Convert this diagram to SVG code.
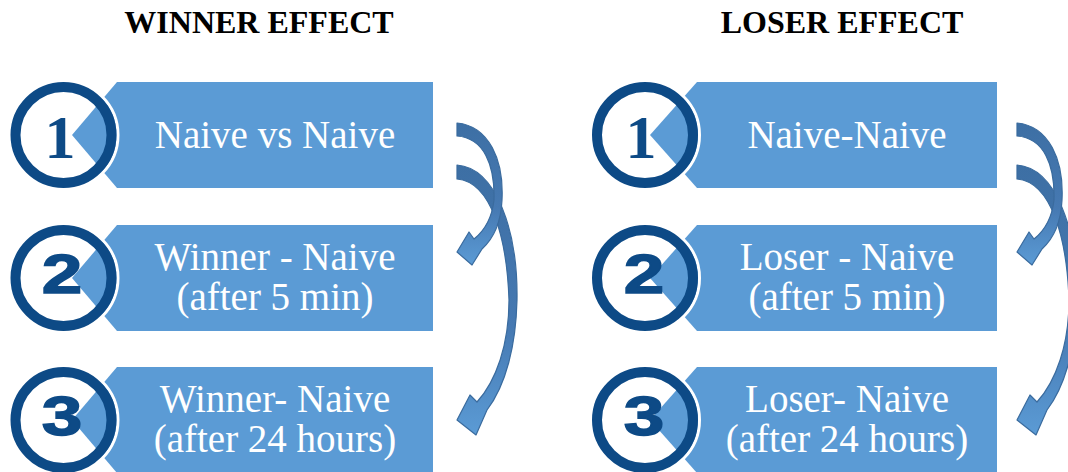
<svg xmlns="http://www.w3.org/2000/svg" width="1068" height="472" viewBox="0 0 1068 472">
<defs>
<linearGradient id="ag" x1="0" y1="0" x2="0" y2="1">
<stop offset="0" stop-color="#3D6FA4"/>
<stop offset="0.6" stop-color="#4679B2"/>
<stop offset="1" stop-color="#5B9BD5"/>
</linearGradient>
<style>
.box{fill:#5B9BD5}
.ring{fill:none;stroke:#0D4A86;stroke-width:10}
.halo{fill:none;stroke:#fff;stroke-width:3}
.num1{font-family:"Liberation Serif",serif;font-weight:bold;font-size:62px;fill:#0D4A86;text-anchor:middle}
.num{font-family:"Liberation Sans",sans-serif;font-weight:bold;font-size:56px;fill:#0D4A86;text-anchor:middle;stroke:#0D4A86;stroke-width:1.5}
.lbl{font-family:"Liberation Serif",serif;font-size:39px;fill:#fff;text-anchor:middle}
.title{font-family:"Liberation Serif",serif;font-weight:bold;font-size:32px;fill:#000;text-anchor:middle}
.arr{fill:url(#ag);stroke:#3A6B9E;stroke-width:1.2;stroke-linejoin:round}
</style>
</defs>
<rect width="1068" height="472" fill="#fff"/>
<text class="title" x="259" y="33">WINNER EFFECT</text>
<text class="title" x="842" y="33">LOSER EFFECT</text>

<g id="w1">
<polygon class="box" points="117,82 433,82 433,188 117,188 72,135"/>
<circle class="halo" cx="63.5" cy="135" r="54.5"/>
<circle class="ring" cx="63.5" cy="135" r="48"/>
<text class="num1" x="60" y="158">1</text>
<text class="lbl" x="275" y="148">Naive vs Naive</text>
</g>
<g id="w2">
<polygon class="box" points="117,225 433,225 433,331 117,331 72,278"/>
<circle class="halo" cx="63.5" cy="278" r="54.5"/>
<circle class="ring" cx="63.5" cy="278" r="48"/>
<text class="num" transform="translate(62,293) scale(1.3,1)">2</text>
<text class="lbl" x="275" y="270">Winner - Naive</text>
<text class="lbl" x="275" y="310">(after 5 min)</text>
</g>
<g id="w3">
<polygon class="box" points="117,367 433,367 433,473 117,473 72,420"/>
<circle class="halo" cx="63.5" cy="420" r="54.5"/>
<circle class="ring" cx="63.5" cy="420" r="48"/>
<text class="num" transform="translate(62,435) scale(1.3,1)">3</text>
<text class="lbl" x="275" y="412">Winner- Naive</text>
<text class="lbl" x="275" y="452">(after 24 hours)</text>
</g>

<g id="l1">
<polygon class="box" points="697,82 997,82 997,188 697,188 650,135"/>
<circle class="halo" cx="645" cy="135" r="54.5"/>
<circle class="ring" cx="645" cy="135" r="48"/>
<text class="num1" x="641" y="158">1</text>
<text class="lbl" x="847" y="148">Naive-Naive</text>
</g>
<g id="l2">
<polygon class="box" points="697,225 997,225 997,331 697,331 650,278"/>
<circle class="halo" cx="645" cy="278" r="54.5"/>
<circle class="ring" cx="645" cy="278" r="48"/>
<text class="num" transform="translate(644,293) scale(1.3,1)">2</text>
<text class="lbl" x="847" y="270">Loser - Naive</text>
<text class="lbl" x="847" y="310">(after 5 min)</text>
</g>
<g id="l3">
<polygon class="box" points="697,367 997,367 997,473 697,473 650,420"/>
<circle class="halo" cx="645" cy="420" r="54.5"/>
<circle class="ring" cx="645" cy="420" r="48"/>
<text class="num" transform="translate(644,435) scale(1.3,1)">3</text>
<text class="lbl" x="847" y="412">Loser- Naive</text>
<text class="lbl" x="847" y="452">(after 24 hours)</text>
</g>

<g id="connectors">
<g id="winner-arrows">
<path class="arr" d="M457,165 C496,168 518,230 517,300 C516,345 506,385 487,410 L476,435 L457,420 L470,395 L477,402 C496,381 509,345 509,300 C507,240 492,182 457,179 Z"/>
<path class="arr" d="M457,123 C489,126 504,160 502,200 C501,222 493,239 482,249 L472,265 L457,252 L469,232 L474,239 C484,231 492,218 494,200 C495,165 484,138 457,136 Z"/>
</g>
<g id="loser-arrows" transform="translate(560,0)">
<path class="arr" d="M457,165 C496,168 518,230 517,300 C516,345 506,385 487,410 L476,435 L457,420 L470,395 L477,402 C496,381 509,345 509,300 C507,240 492,182 457,179 Z"/>
<path class="arr" d="M457,123 C489,126 504,160 502,200 C501,222 493,239 482,249 L472,265 L457,252 L469,232 L474,239 C484,231 492,218 494,200 C495,165 484,138 457,136 Z"/>
</g>
</g>
</svg>
